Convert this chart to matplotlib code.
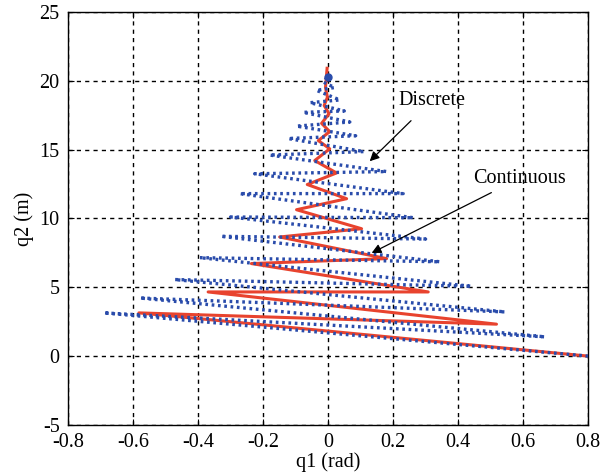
import matplotlib
matplotlib.use('Agg')
import matplotlib.pyplot as plt

plt.rcParams['font.family'] = ['Liberation Serif', 'DejaVu Serif']
plt.rcParams['font.size'] = 14.5

# continuous trajectory (red), turning points
cont_q1 = [0.80, -0.582, 0.518, -0.369, 0.308, -0.236, 0.180, -0.149, 0.103,
           -0.097, 0.057, -0.064, 0.026, -0.041, 0.005, -0.030, 0.005, -0.020,
           0.003, -0.012, -0.002, -0.008, -0.003]
cont_q2 = [0.0, 3.14, 2.32, 4.66, 4.66, 6.72, 7.08, 8.65, 9.25,
           10.63, 11.43, 12.46, 13.30, 14.20, 15.05, 15.65, 16.30, 16.90,
           17.60, 18.20, 18.80, 19.50, 20.90]

# discrete trajectory (blue dots)
disc_q1 = [0.80, -0.69, 0.667, -0.579, 0.544, -0.472, 0.441, -0.395, 0.344,
           -0.33, 0.30, -0.30, 0.262, -0.272, 0.231, -0.226, 0.18, -0.18,
           0.11, -0.123, 0.085, -0.097, 0.067, -0.077, 0.05, -0.056, 0.036,
           -0.036, 0.02, -0.015, 0.0]
disc_q2 = [0.0, 3.14, 1.40, 4.22, 3.21, 5.56, 5.07, 7.15, 6.85,
           8.70, 8.50, 10.10, 10.05, 11.80, 11.80, 13.24, 13.40, 14.60,
           14.85, 15.80, 16.00, 16.70, 17.00, 17.70, 17.80, 18.40, 18.60,
           19.30, 19.50, 19.90, 20.30]

fig = plt.figure(figsize=(6.07, 4.72), dpi=100)
ax = fig.add_axes([0.112, 0.0996, 0.857, 0.8754])

ax.plot(disc_q1, disc_q2, color='#2a4cab', lw=2.4, linestyle=(0, (0.8, 1.1)),
        dash_capstyle='butt', zorder=3)
ax.plot(cont_q1, cont_q2, color='#e8432e', lw=2.2, zorder=2)
ax.plot(disc_q1[-1], disc_q2[-1], 'o', color='#2a4cab', ms=5, zorder=4)

ax.set_xlim(-0.8, 0.8)
ax.set_ylim(-5, 25)
ax.set_xticks([-0.8, -0.6, -0.4, -0.2, 0, 0.2, 0.4, 0.6, 0.8])
ax.set_xticklabels(['-0.8', '-0.6', '-0.4', '-0.2', '0', '0.2', '0.4', '0.6', '0.8'])
ax.set_yticks([-5, 0, 5, 10, 15, 20, 25])
ax.set_yticklabels(['-5', '0', '5', '10', '15', '20', '25'])
ax.tick_params(direction='in', length=4, top=True, right=True)
ax.tick_params(axis='y', pad=6)
ax.tick_params(axis='x', pad=6)
ax.grid(True, color='black', linestyle=(0, (3, 3)), lw=1)
for s in ax.spines.values():
    s.set_linewidth(1)

ax.set_xlabel('q1 (rad)', labelpad=0)
ax.set_ylabel('q2 (m)', labelpad=4)

ax.annotate('Discrete', xy=(0.128, 14.15), xytext=(0.215, 18.55),
            va='center', ha='left', fontsize=14.5,
            arrowprops=dict(arrowstyle='-|>', color='black', lw=0.9,
                            shrinkA=8, shrinkB=0, mutation_scale=14))
ax.annotate('Continuous', xy=(0.134, 7.49), xytext=(0.446, 12.9),
            va='center', ha='left', fontsize=14.5,
            arrowprops=dict(arrowstyle='-|>', color='black', lw=0.9,
                            shrinkA=3, shrinkB=0, mutation_scale=14))

fig.savefig('out.png', dpi=100)
